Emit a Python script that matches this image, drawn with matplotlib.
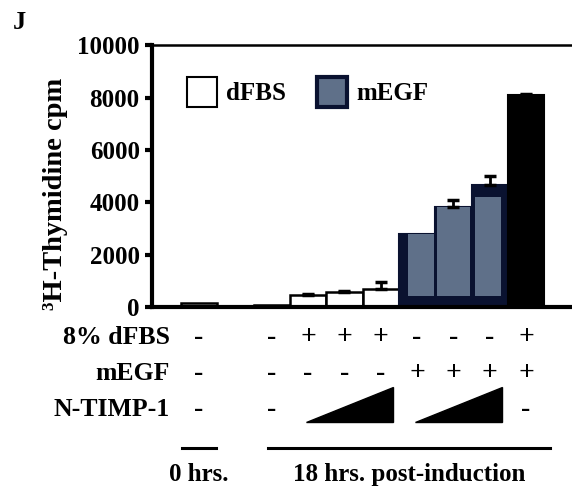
import numpy as np
import matplotlib
matplotlib.use("Agg")
import matplotlib.pyplot as plt
from matplotlib.patches import Patch, Polygon
from matplotlib.transforms import blended_transform_factory


# =========================
# data
# =========================
positions = [0, 2, 3, 4, 5, 6, 7, 8, 9]
cpm = [150, 60, 450, 550, 700, 2800, 3800, 4650, 8100]
cpm_err = [0, 0, 40, 60, 250, 0, 300, 350, 50]
kind = ["none", "none", "dFBS", "dFBS", "dFBS", "mEGF", "mEGF", "mEGF", "both"]

yticks = [0, 2000, 4000, 6000, 8000, 10000]

row_names = ["8% dFBS", "mEGF", "N-TIMP-1"]
row_dfbs = ["-", "-", "+", "+", "+", "-", "-", "-", "+"]
row_megf = ["-", "-", "-", "-", "-", "+", "+", "+", "+"]
row_timp = ["-", "-", "", "", "", "", "", "", "-"]
# increasing N-TIMP-1 wedges: (first bar index, last bar index)
timp_wedges = [(2, 4), (5, 7)]

group_labels = ["0 hrs.", "18 hrs. post-induction"]
group_spans = [(0, 0), (1, 8)]

FONT = "Liberation Serif"
WHITE = "#ffffff"
GREY_BLUE = "#5f7089"
NAVY = "#0a1230"

plt.rcParams["font.family"] = FONT
plt.rcParams["font.weight"] = "bold"

fig = plt.figure(figsize=(5.72, 4.91), dpi=100)
ax = fig.add_axes([0.266, 0.375, 0.733, 0.533])

x = np.array(positions, dtype=float)
y = np.array(cpm, dtype=float)
err = np.array(cpm_err, dtype=float)

# inner grey face offsets for the scanned "3D" look of the mEGF bars
face_shift = {5: 0.12, 6: 0.0, 7: -0.05}
face_width = {5: 0.72, 6: 0.9, 7: 0.72}
face_top = {5: 0, 6: 0, 7: 450}

for i, (xi, yi, k) in enumerate(zip(x, y, kind)):
    if k in ("none", "dFBS"):
        ax.bar(xi, yi, width=1.0, color=WHITE, edgecolor="black", linewidth=1.8, zorder=2)
    elif k == "mEGF":
        ax.bar(xi, yi, width=1.0, color=NAVY, edgecolor=NAVY, linewidth=1.5, zorder=2)
        ax.bar(xi + face_shift[i], yi - 400 - face_top[i], bottom=400, width=face_width[i],
               color=GREY_BLUE, edgecolor="none", zorder=3)
    else:
        ax.bar(xi, yi, width=1.0, color="black", edgecolor="black", linewidth=1.5, zorder=2)

has_err = err > 0
ax.errorbar(x[has_err], y[has_err], yerr=[np.zeros(has_err.sum()), err[has_err]],
            fmt="none", ecolor="black", elinewidth=2, capsize=4, capthick=2.5, zorder=4)

ax.set_xlim(-1.29, 10.25)
ax.set_ylim(0, 10000)
ax.set_yticks(yticks)
ax.set_xticks([])
ax.tick_params(axis="y", direction="out", length=5, width=3, pad=4,
               labelsize=18)
for lab in ax.get_yticklabels():
    lab.set_fontweight("bold")

ax.spines["left"].set_linewidth(3)
ax.spines["bottom"].set_linewidth(3)
ax.spines["top"].set_linewidth(1.8)
ax.spines["right"].set_visible(False)

ax.set_ylabel("³H-Thymidine cpm", fontsize=20.5, fontweight="bold")
ax.yaxis.set_label_coords(-0.2, 0.43)

# legend
handles = [
    Patch(facecolor=WHITE, edgecolor="black", linewidth=1.5, label="dFBS"),
    Patch(facecolor=GREY_BLUE, edgecolor=NAVY, linewidth=3, label="mEGF"),
]
ax.legend(handles=handles, loc="upper left", bbox_to_anchor=(0.03, 0.965), ncol=2,
          frameon=False, handlelength=1.2, handleheight=1.45,
          handletextpad=0.35, columnspacing=1.25,
          prop={"family": FONT, "weight": "bold", "size": 18})

# =========================
# condition table under the axis
# =========================
tr = blended_transform_factory(ax.transData, fig.transFigure)
row_y = [0.312, 0.240, 0.167]
for name, ry, vals in zip(row_names, row_y, [row_dfbs, row_megf, row_timp]):
    fig.text(0.297, ry, name, ha="right", va="center", fontsize=18.5, fontweight="bold")
    for xi, v in zip(x, vals):
        if v:
            ax.text(xi, ry, v, transform=tr, ha="center", va="center",
                    fontsize=20, fontweight="bold", clip_on=False)

wy0, wy1 = 0.1405, 0.2118
for i0, i1 in timp_wedges:
    xa = x[i0] - 0.06
    xb = x[i1] + 0.33
    tri = Polygon([[xa, wy0], [xb, wy0], [xb, wy1]], closed=True,
                  facecolor="black", edgecolor="black", transform=tr, clip_on=False)
    ax.add_patch(tri)

line_y = 0.0876
for lab, (i0, i1) in zip(group_labels, group_spans):
    xa = x[i0] - 0.48
    xb = x[i1] + 0.48
    if i0 != i1:
        xa = x[i0] - 0.1
        xb = x[i1] + 0.65
    ax.plot([xa, xb], [line_y, line_y], color="black", linewidth=2.2,
            transform=tr, clip_on=False)
    ax.text((xa + xb) / 2, 0.0326, lab, transform=tr, ha="center", va="center",
            fontsize=18, fontweight="bold", clip_on=False)

fig.text(0.022, 0.955, "J", fontsize=19, fontweight="bold", ha="left", va="center")

fig.savefig("out.png", dpi=100)
